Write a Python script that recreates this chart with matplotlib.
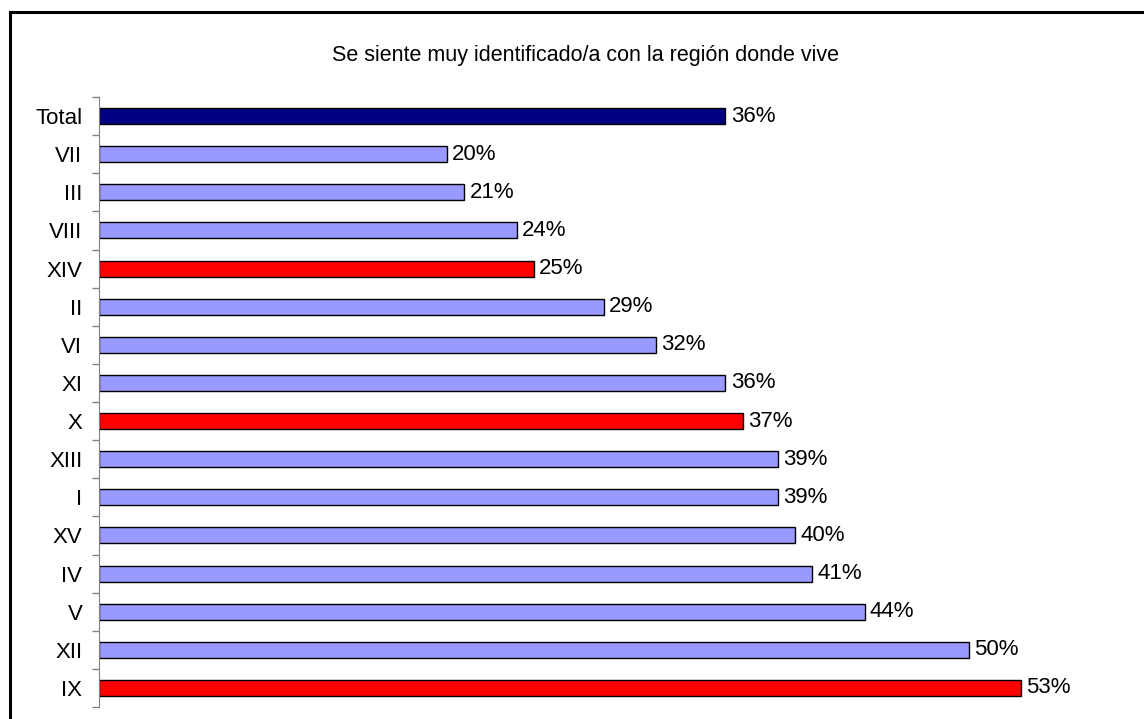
import matplotlib.pyplot as plt
from matplotlib.lines import Line2D
import numpy as np

plt.rcParams['font.family'] = ['Liberation Sans', 'DejaVu Sans']

# data, top to bottom
regions = ['Total', 'VII', 'III', 'VIII', 'XIV', 'II', 'VI', 'XI', 'X',
           'XIII', 'I', 'XV', 'IV', 'V', 'XII', 'IX']
values = [36, 20, 21, 24, 25, 29, 32, 36, 37, 39, 39, 40, 41, 44, 50, 53]
highlight = ['XIV', 'X', 'IX']

colors = []
for r in regions:
    if r == 'Total':
        colors.append('#000080')
    elif r in highlight:
        colors.append('#FF0000')
    else:
        colors.append('#9999FF')

fig = plt.figure(figsize=(11.44, 7.19), dpi=100)
ax = fig.add_axes([99 / 1144, 12 / 719, 1044 / 1144, 610 / 719])

y = np.arange(len(regions))
ax.barh(y, values, height=0.42, color=colors, edgecolor='black', linewidth=1)
for yi, v in zip(y, values):
    ax.text(v + 0.3, yi, '%d%%' % v, va='center', ha='left', fontsize=16)

ax.set_xlim(0, 60)
ax.set_ylim(len(regions) - 0.5, -0.5)
ax.set_yticks(y)
ax.set_yticklabels(regions, fontsize=16)
ax.set_yticks(np.arange(len(regions) + 1) - 0.5, minor=True)
ax.tick_params(axis='y', which='major', length=0, pad=12)
ax.tick_params(axis='y', which='minor', length=5, color='#808080', width=1)
ax.set_xticks([])
for s in ['top', 'right', 'bottom']:
    ax.spines[s].set_visible(False)
ax.spines['left'].set_color('#808080')

fig.text(585 / 1144, 1 - 56 / 719, 'Se siente muy identificado/a con la región donde vive',
         ha='center', va='center', fontsize=15.5)

# outer frame
fig.add_artist(Line2D([10 / 1144, 1], [1 - 12 / 719] * 2, color='black', lw=2.2,
                      transform=fig.transFigure))
fig.add_artist(Line2D([10 / 1144] * 2, [0, 1 - 12 / 719], color='black', lw=2.2,
                      transform=fig.transFigure))

fig.savefig('out.png', dpi=100)
